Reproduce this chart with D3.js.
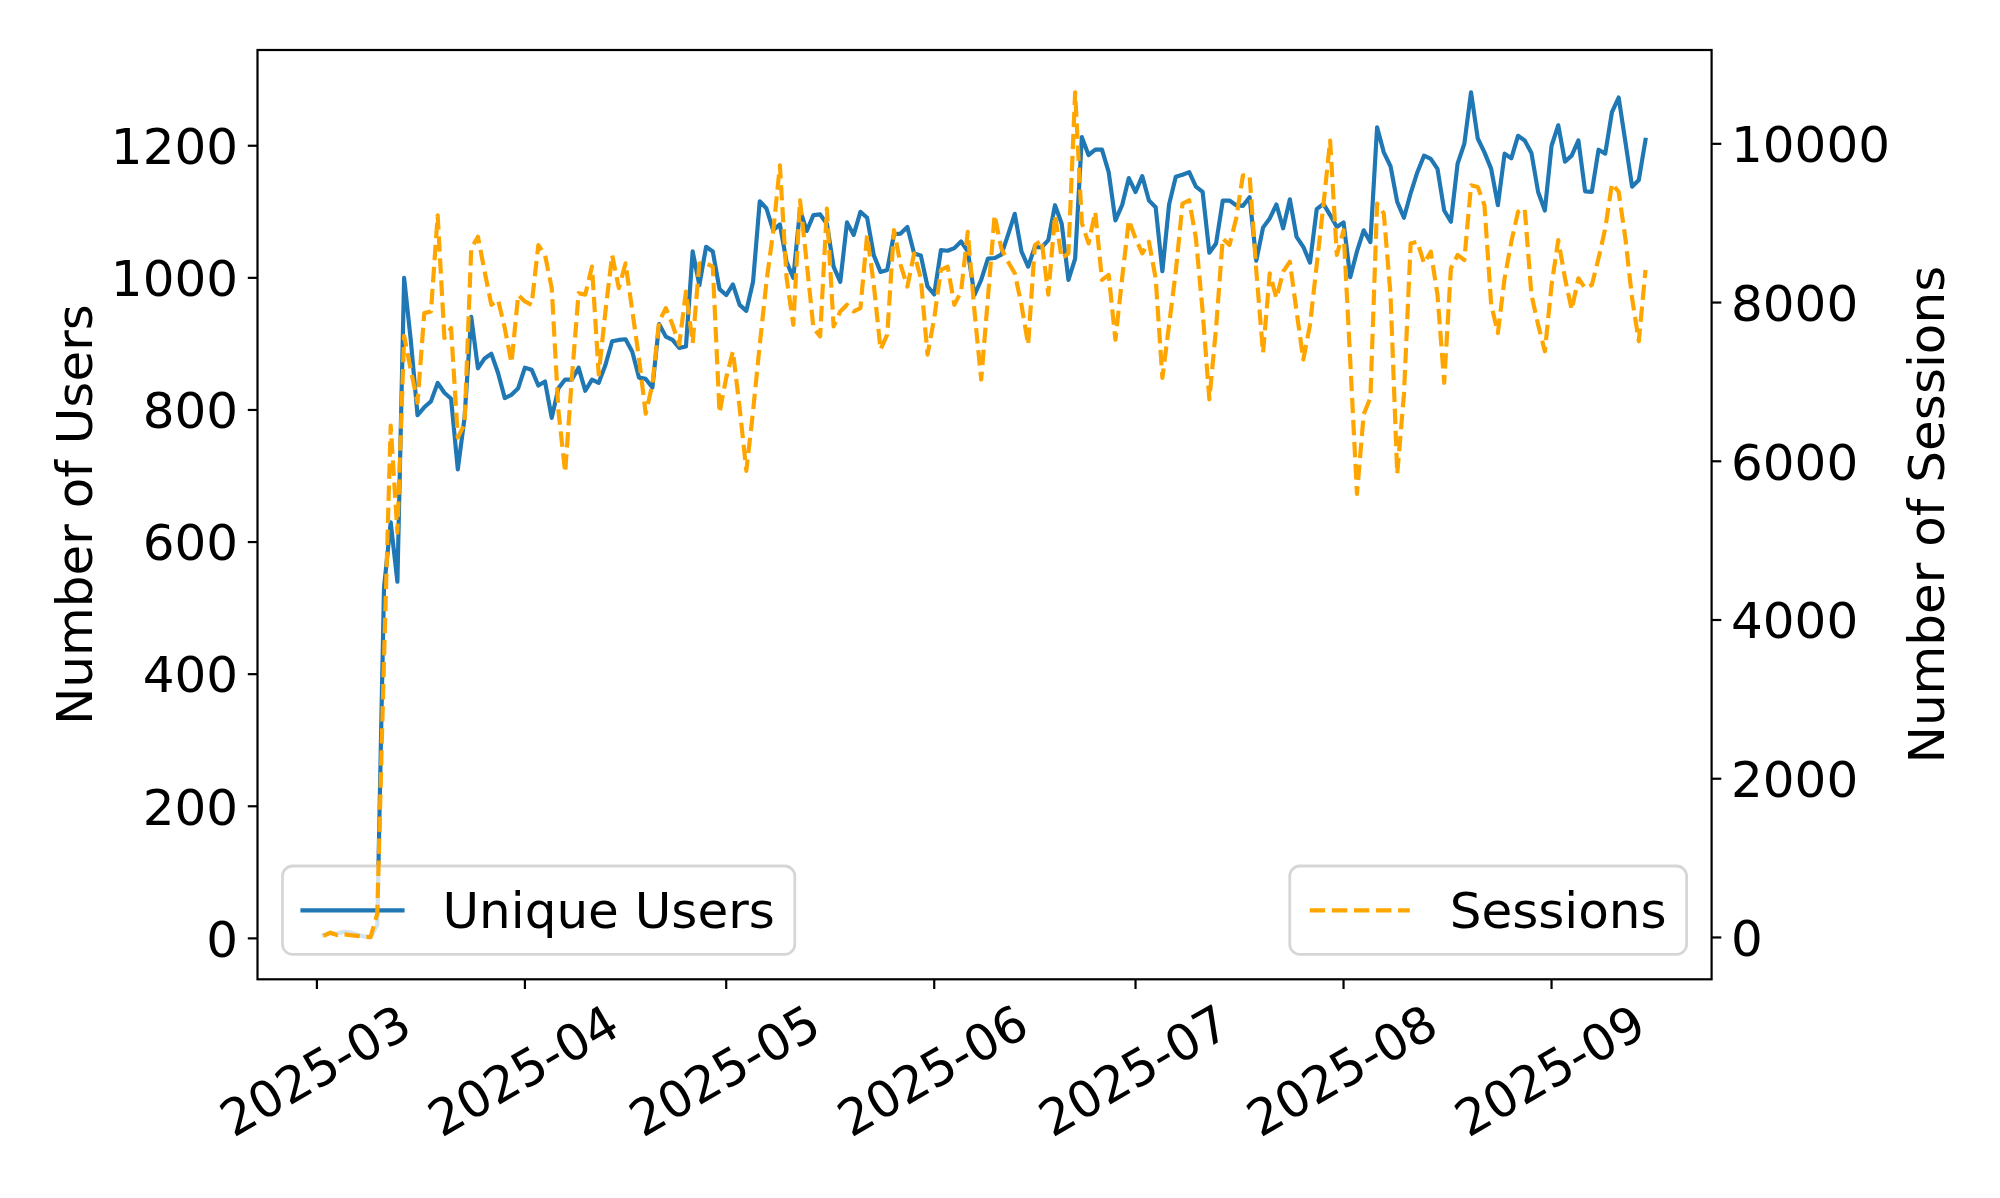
<!DOCTYPE html>
<html>
<head>
<meta charset="utf-8">
<script src="https://cdn.jsdelivr.net/npm/d3@7/dist/d3.min.js"></script>
<style>
  html, body { margin: 0; padding: 0; background: #fff; }
  svg { display: block; }
  text { font-family: "DejaVu Sans", sans-serif; fill: #000; }
</style>
</head>
<body>
<svg id="chart" width="2000" height="1198"></svg>
<script>
// ---------------- data ----------------
const startDate = "2025-03-02";   // first day of the series (daily)
const seriesNames = ["Unique Users", "Sessions"];
const users = [
  5, 8, 7, 10, 9, 6, 3, 2, 20, 530,
  630, 540, 1000, 905, 792, 804, 813, 841, 826, 817,
  710, 788, 941, 863, 878, 885, 856, 818, 823, 833,
  864, 861, 837, 843, 788, 833, 846, 846, 864, 829,
  846, 841, 868, 904, 906, 907, 888, 849, 847, 834,
  930, 911, 906, 894, 896, 1040, 989, 1047, 1040, 983,
  974, 990, 959, 950, 994, 1116, 1105, 1072, 1081, 1024,
  1000, 1103, 1071, 1095, 1096, 1082, 1017, 994, 1084, 1065,
  1100, 1091, 1034, 1009, 1012, 1066, 1067, 1077, 1037, 1034,
  987, 975, 1042, 1041, 1045, 1055, 1040, 974, 997, 1029,
  1030, 1035, 1065, 1097, 1040, 1017, 1047, 1046, 1057, 1110,
  1082, 997, 1029, 1213, 1186, 1194, 1194, 1160, 1087, 1110,
  1151, 1130, 1154, 1117, 1107, 1010, 1111, 1153, 1156, 1160,
  1138, 1130, 1038, 1052, 1117, 1117, 1110, 1109, 1122, 1026,
  1076, 1090, 1111, 1075, 1119, 1062, 1047, 1023, 1104, 1112,
  1095, 1077, 1084, 1001, 1040, 1072, 1054, 1228, 1190, 1169,
  1115, 1091, 1128, 1160, 1185, 1180, 1165, 1102, 1085, 1173,
  1203, 1281, 1211, 1190, 1165, 1110, 1188, 1181, 1215, 1208,
  1189, 1130, 1102, 1200, 1231, 1176, 1185, 1208, 1131, 1130,
  1194, 1188, 1251, 1273, 1206, 1138, 1148, 1209
];
const sessions = [
  20, 60, 30, 40, 30, 20, 10, 5, 300, 3500,
  6450, 5100, 7580, 7150, 6738, 7867, 7888, 9100, 7553, 7679,
  6299, 6466, 8682, 8829, 8390, 7971, 8034, 7679, 7240, 8097,
  8014, 7971, 8724, 8599, 8181, 6633, 5860, 7052, 8118, 8100,
  8453, 7093, 7888, 8599, 8181, 8494, 7900, 7300, 6600, 6968,
  7762, 7930, 7720, 7470, 8139, 7490, 8494, 8494, 8452, 6612,
  7051, 7386, 6675, 5880, 6633, 7470, 8264, 8892, 9728, 8306,
  7720, 9289, 8500, 7679, 7574, 9184, 7700, 7888, 7972, 7888,
  7930, 8850, 8223, 7407, 7595, 8912, 8473, 8201, 8620, 8306,
  7344, 7804, 8411, 8452, 7972, 8139, 8892, 7888, 7030, 8055,
  9101, 8683, 8515, 8369, 7972, 7470, 8724, 8787, 8100, 9101,
  8557, 8620, 10650, 9000, 8745, 9143, 8285, 8348, 7532, 8306,
  9038, 8808, 8620, 8766, 8306, 7051, 7720, 8390, 9247, 9289,
  8808, 7888, 6780, 7679, 8808, 8724, 9059, 9603, 9603, 8400,
  7365, 8369, 8055, 8390, 8515, 7888, 7282, 7720, 8473, 9226,
  10042, 8599, 8912, 7260, 5588, 6591, 6800, 9247, 9122, 8097,
  5839, 6842, 8745, 8766, 8494, 8641, 8097, 6989, 8432, 8599,
  8536, 9477, 9456, 9226, 7972, 7616, 8306, 8766, 9143, 9184,
  8097, 7720, 7386, 8222, 8787, 8306, 7909, 8306, 8181, 8222,
  8557, 8933, 9498, 9394, 8808, 8055, 7512, 8411
];
const usersTicks = [0, 200, 400, 600, 800, 1000, 1200];
const sessionsTicks = [0, 2000, 4000, 6000, 8000, 10000];
const xTickMonths = ["2025-03", "2025-04", "2025-05", "2025-06", "2025-07", "2025-08", "2025-09"];
const yLabelLeft = "Number of Users";
const yLabelRight = "Number of Sessions";

// ---------------- layout ----------------
const FS = 50;                 // font size (18pt @ 200dpi)
const axL = 257.5, axR = 1711.6, axT = 50, axB = 979.3;
const tickLen = 9.7, tickPad = 9.7, spineW = 2.2, lineW = 4.17;
const blue = "#1f77b4", orange = "#ffa500";

const svg = d3.select("#chart");
const DAY = 86400000;
const t0 = new Date(startDate + "T00:00:00Z");
const dates = users.map((_, i) => new Date(t0.getTime() + i * DAY));

function padDomain(lo, hi) { const r = hi - lo; return [lo - 0.05 * r, hi + 0.05 * r]; }

const xExt = d3.extent(dates);
const xDom = padDomain(+xExt[0], +xExt[1]).map(v => new Date(v));
const x = d3.scaleUtc().domain(xDom).range([axL, axR]);
const yL = d3.scaleLinear().domain(padDomain(d3.min(users), d3.max(users))).range([axB, axT]);
const yR = d3.scaleLinear().domain(padDomain(d3.min(sessions), d3.max(sessions))).range([axB, axT]);

svg.append("defs").append("clipPath").attr("id", "clip")
  .append("rect").attr("x", axL).attr("y", axT).attr("width", axR - axL).attr("height", axB - axT);

// ---- users line (ax1)
const lineU = d3.line().x((d, i) => x(dates[i])).y(d => yL(d));
svg.append("path").datum(users)
  .attr("clip-path", "url(#clip)")
  .attr("d", lineU)
  .attr("fill", "none").attr("stroke", blue).attr("stroke-width", lineW)
  .attr("stroke-linejoin", "round").attr("stroke-linecap", "square");

// legend helper
function legend(side, label, color, dashed) {
  const g = svg.append("g");
  const txt = g.append("text").attr("font-size", FS).text(label);
  const tw = txt.node().getComputedTextLength();
  const pad = 0.4 * FS, hl = 2.0 * FS, htp = 0.8 * FS;
  const w = pad + hl + htp + tw + pad, h = 88.3;
  const bx = side === "left" ? axL + 0.5 * FS : axR - 0.5 * FS - w;
  const by = axB - 0.5 * FS - h;
  g.insert("rect", "text")
    .attr("x", bx).attr("y", by).attr("width", w).attr("height", h)
    .attr("rx", 0.2 * FS).attr("ry", 0.2 * FS)
    .attr("fill", "rgba(255,255,255,0.8)")
    .attr("stroke", "rgba(204,204,204,0.8)").attr("stroke-width", 2.78);
  const hy = by + h / 2 + 0.2;
  g.append("line")
    .attr("x1", bx + pad).attr("x2", bx + pad + hl).attr("y1", hy).attr("y2", hy)
    .attr("stroke", color).attr("stroke-width", lineW)
    .attr("stroke-dasharray", dashed ? "15.4,6.67" : null)
    .attr("stroke-linecap", dashed ? "butt" : "square");
  txt.attr("x", bx + pad + hl + htp).attr("y", hy + 18);
}

legend("left", seriesNames[0], blue, false);

// ---- sessions line (ax2, on top of ax1 legend)
const lineS = d3.line().x((d, i) => x(dates[i])).y(d => yR(d));
svg.append("path").datum(sessions)
  .attr("clip-path", "url(#clip)")
  .attr("d", lineS)
  .attr("fill", "none").attr("stroke", orange).attr("stroke-width", lineW)
  .attr("stroke-dasharray", "15.4,6.67").attr("stroke-linecap", "butt")
  .attr("stroke-linejoin", "round");

legend("right", seriesNames[1], orange, true);

// ---- spines
svg.append("rect").attr("x", axL).attr("y", axT).attr("width", axR - axL).attr("height", axB - axT)
  .attr("fill", "none").attr("stroke", "#000").attr("stroke-width", spineW);

// ---- left y axis
const gL = svg.append("g");
usersTicks.forEach(v => {
  const yy = yL(v);
  gL.append("line").attr("x1", axL - tickLen).attr("x2", axL).attr("y1", yy).attr("y2", yy)
    .attr("stroke", "#000").attr("stroke-width", spineW);
  gL.append("text").attr("x", axL - tickLen - tickPad).attr("y", yy + 0.365 * FS)
    .attr("text-anchor", "end").attr("font-size", FS).text(String(v));
});

// ---- right y axis
const gR = svg.append("g");
sessionsTicks.forEach(v => {
  const yy = yR(v);
  gR.append("line").attr("x1", axR).attr("x2", axR + tickLen).attr("y1", yy).attr("y2", yy)
    .attr("stroke", "#000").attr("stroke-width", spineW);
  gR.append("text").attr("x", axR + tickLen + tickPad).attr("y", yy + 0.365 * FS)
    .attr("text-anchor", "start").attr("font-size", FS).text(String(v));
});

// ---- x axis
const gX = svg.append("g");
const fmt = d3.utcFormat("%Y-%m");
xTickMonths.forEach(m => {
  const d = new Date(m + "-01T00:00:00Z");
  const xx = x(d);
  gX.append("line").attr("x1", xx).attr("x2", xx).attr("y1", axB).attr("y2", axB + tickLen)
    .attr("stroke", "#000").attr("stroke-width", spineW);
  gX.append("text")
    .attr("transform", `translate(${xx - 2},1070) rotate(-30)`)
    .attr("text-anchor", "middle").attr("dy", "0.365em")
    .attr("font-size", FS).text(fmt(d));
});

// ---- axis labels
const yMid = (axT + axB) / 2;
svg.append("text").attr("transform", `translate(92,${yMid}) rotate(-90)`)
  .attr("text-anchor", "middle").attr("font-size", FS).text(yLabelLeft);
svg.append("text").attr("transform", `translate(1944,${yMid}) rotate(-90)`)
  .attr("text-anchor", "middle").attr("font-size", FS).text(yLabelRight);
</script>
</body>
</html>
